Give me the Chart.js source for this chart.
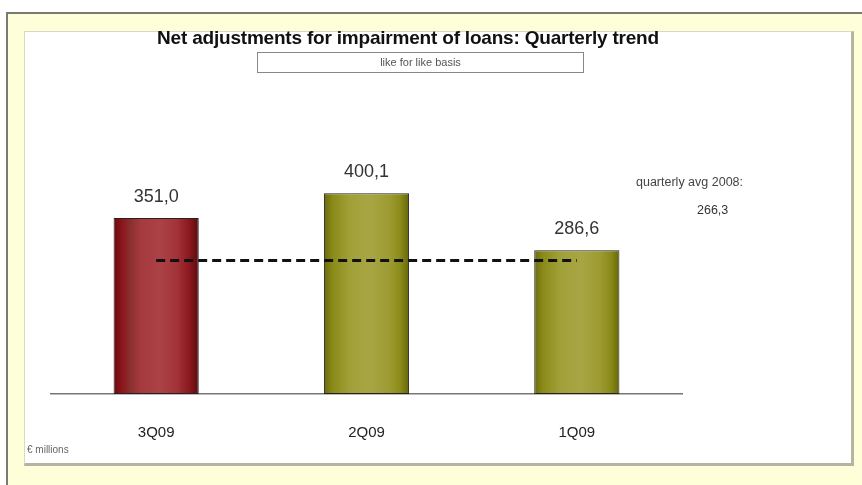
<!DOCTYPE html>
<html>
<head>
<meta charset="utf-8">
<script src="https://cdn.jsdelivr.net/npm/chart.js@4"></script>
<style>
  html, body { margin: 0; padding: 0; background: #fff; }
  #wrap { position: relative; width: 862px; height: 485px; overflow: hidden; font-family: "Liberation Sans", Arial, sans-serif; }
  #frame { position: absolute; left: 6px; top: 12px; width: 870px; height: 490px; background: #fefed8; border-left: 2px solid #7a7a72; border-top: 2px solid #7a7a72; }
  #panel { position: absolute; left: 24px; top: 31px; width: 826px; height: 431px; background: #fff; border-left: 1px solid #d8d8c4; border-top: 1px solid #d8d8c4; border-right: 3px solid #b4b4a0; border-bottom: 3px solid #b4b4a0; }
  canvas { position: absolute; left: 0; top: 0; }
  .txt { position: absolute; white-space: nowrap; }
  #title { left: 0; width: 816px; top: 27px; text-align: center; font: bold 19px "Liberation Sans", Arial, sans-serif; color: #111; letter-spacing: -0.2px; }
  #subtitle { left: 257px; top: 52px; width: 325px; height: 19px; border: 1px solid #888; text-align: center; font: 11px "Liberation Sans", Arial, sans-serif; line-height: 19px; color: #555; }
  #avgTitle { left: 636px; top: 175px; font: 12.5px "Liberation Sans", Arial, sans-serif; color: #444; }
  #avgValue { left: 697px; top: 203px; font: 12.5px "Liberation Sans", Arial, sans-serif; color: #333; }
  #unit { left: 27px; top: 444px; font: 10px "Liberation Sans", Arial, sans-serif; color: #666; }
</style>
</head>
<body>
<div id="wrap">
  <div id="frame"></div>
  <div id="panel"></div>
  <canvas id="chart" width="862" height="485"></canvas>
  <div class="txt" id="title">Net adjustments for impairment of loans: Quarterly trend</div>
  <div class="txt" id="subtitle">like for like basis</div>
  <div class="txt" id="avgTitle">quarterly avg 2008:</div>
  <div class="txt" id="avgValue"></div>
  <div class="txt" id="unit">€ millions</div>
</div>
<script>
// quarterly figures, € millions
const quarters = ['3Q09', '2Q09', '1Q09'];
const impairments = [351.0, 400.1, 286.6];
const avg2008 = 266.3;
const avgLine = [266.3, 266.3, 266.3];

const fmt = v => v.toFixed(1).replace('.', ',');
document.getElementById('avgValue').textContent = fmt(avg2008);

const BAR_PCT = 0.405;

// horizontal shading across each bar
const redStops = [[0, '#6e0810'], [0.1, '#8c161c'], [0.2, '#8a3030'], [0.32, '#a63a3e'], [0.55, '#ab4246'], [0.75, '#a23238'], [0.88, '#8c1a20'], [1, '#5c0a0e']];
const oliveStops = [[0, '#6a6a10'], [0.1, '#8a8a18'], [0.3, '#a0a038'], [0.55, '#a8a644'], [0.78, '#9c9a30'], [0.9, '#8a8a18'], [1, '#66660c']];

function barFill(c) {
    const stops = c.dataIndex === 0 ? redStops : oliveStops;
    const chart = c.chart;
    const xs = chart.scales.x;
    if (!xs || !chart.chartArea) return stops[3][1];
    const cx = xs.getPixelForValue(c.dataIndex);
    const half = xs.width / quarters.length * BAR_PCT / 2;
    const g = chart.ctx.createLinearGradient(cx - half, 0, cx + half, 0);
    stops.forEach(s => g.addColorStop(s[0], s[1]));
    return g;
}

// value labels above the bars
const valueLabels = {
    id: 'valueLabels',
    afterDatasetsDraw(chart) {
        const ctx = chart.ctx;
        const meta = chart.getDatasetMeta(1);
        ctx.save();
        ctx.font = '18px "Liberation Sans", Arial, sans-serif';
        ctx.fillStyle = '#333';
        ctx.textAlign = 'center';
        ctx.textBaseline = 'middle';
        meta.data.forEach((bar, i) => {
            ctx.fillText(fmt(impairments[i]), bar.x, bar.y - 21);
        });
        ctx.restore();
    }
};

new Chart(document.getElementById('chart'), {
    type: 'bar',
    data: {
        labels: quarters,
        datasets: [{
            type: 'line',
            data: avgLine,
            borderColor: '#111',
            borderWidth: 3,
            borderDash: [9, 5],
            pointRadius: 0,
            fill: false,
            order: 0
        }, {
            data: impairments,
            backgroundColor: barFill,
            borderColor: '#222',
            borderWidth: 1,
            borderSkipped: false,
            categoryPercentage: 1,
            barPercentage: BAR_PCT,
            order: 1
        }]
    },
    options: {
        responsive: false,
        animation: false,
        layout: { padding: { left: 51, right: 180, top: 93, bottom: 21 } },
        plugins: { legend: { display: false }, tooltip: { enabled: false } },
        scales: {
            x: {
                grid: { display: false },
                border: { display: true, color: '#777', width: 1.5 },
                ticks: { padding: 22, color: '#222', font: { size: 15, family: '"Liberation Sans", Arial, sans-serif' } }
            },
            y: { display: false, min: 0, max: 600 }
        }
    },
    plugins: [valueLabels]
});
</script>
</body>
</html>
